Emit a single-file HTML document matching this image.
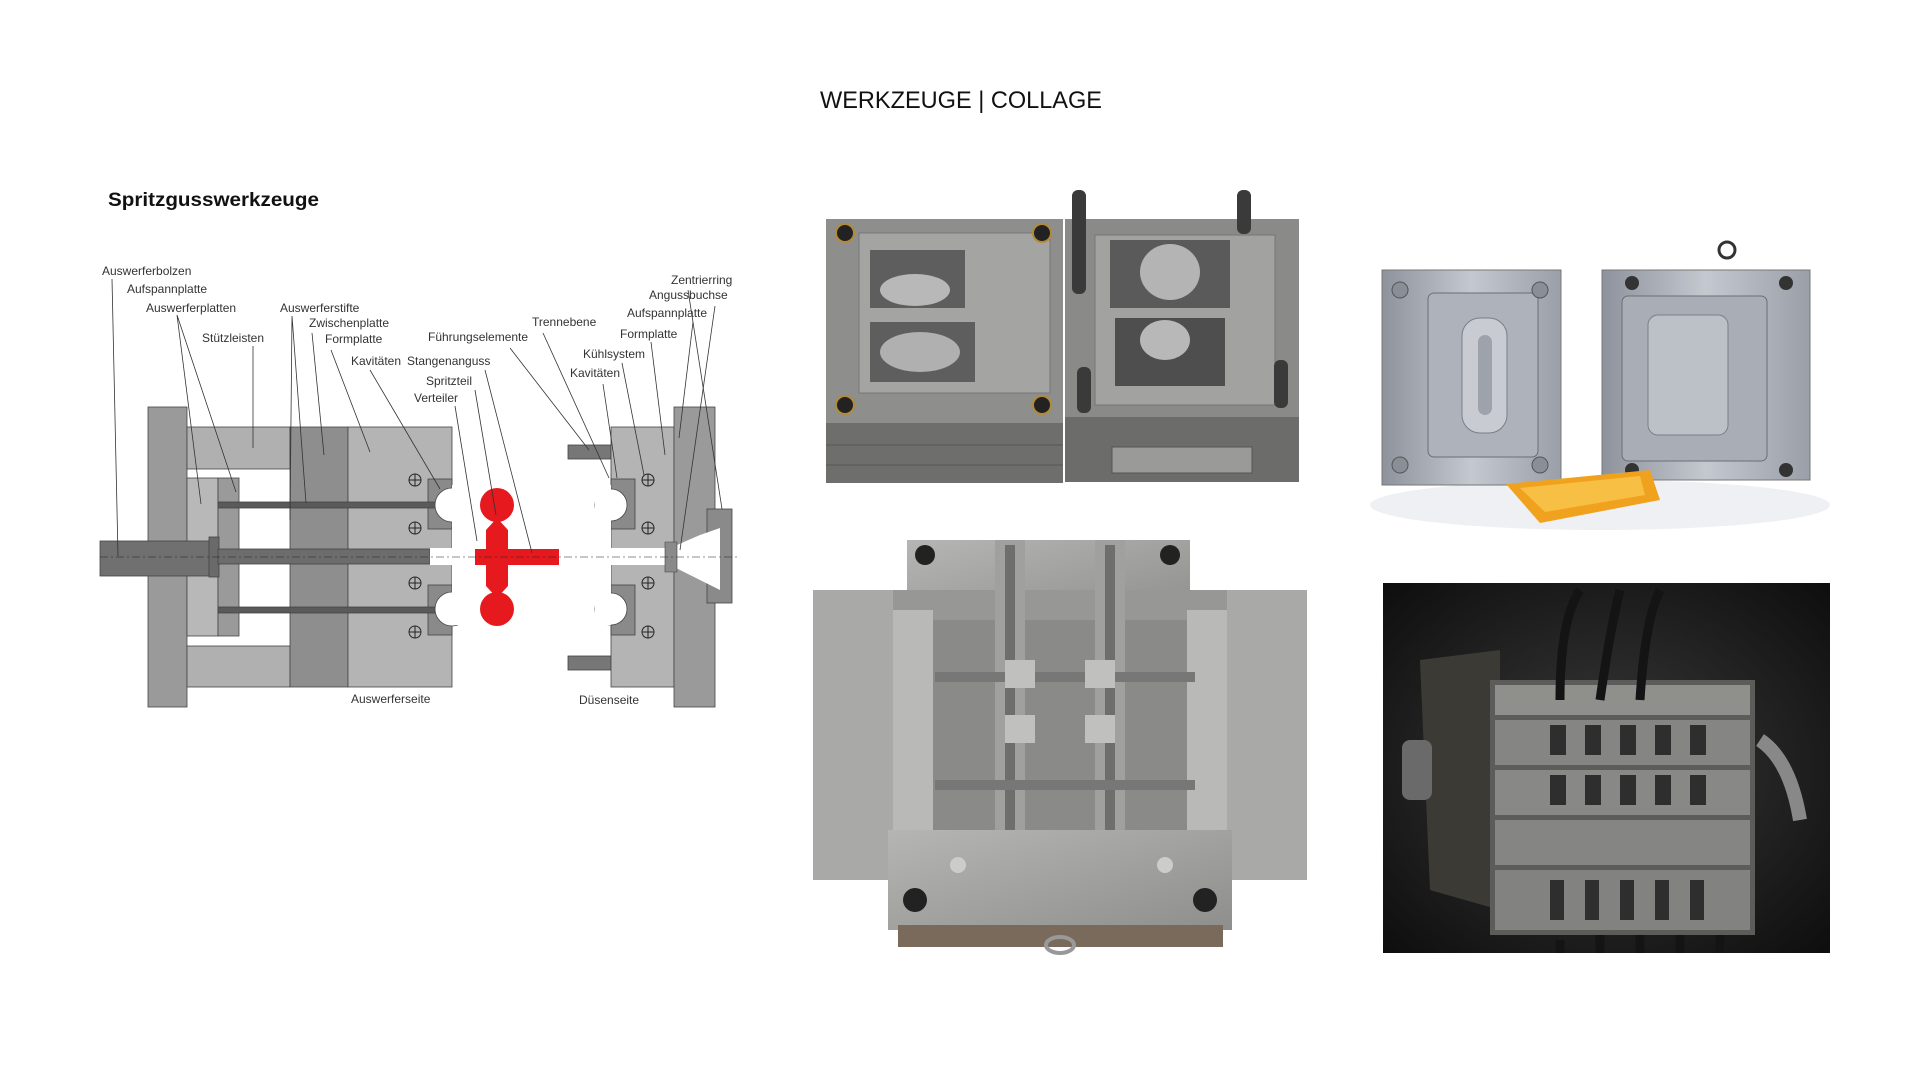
<!DOCTYPE html>
<html><head><meta charset="utf-8"><style>
html,body{margin:0;padding:0;background:#fff;width:1920px;height:1080px;overflow:hidden}
svg{display:block}
.l{font-family:"Liberation Sans Narrow","Liberation Sans",sans-serif;font-size:12px;fill:#333}
</style></head><body>
<svg width="1920" height="1080" viewBox="0 0 1920 1080" xmlns="http://www.w3.org/2000/svg">
<defs>
<linearGradient id="gA" x1="0" y1="0" x2="1" y2="1"><stop offset="0" stop-color="#a8a8a6"/><stop offset="1" stop-color="#808080"/></linearGradient>
<linearGradient id="gB" x1="0" y1="0" x2="1" y2="0"><stop offset="0" stop-color="#8d929c"/><stop offset=".5" stop-color="#c4c8cf"/><stop offset="1" stop-color="#9a9fa8"/></linearGradient>
<linearGradient id="gC" x1="0" y1="0" x2="1" y2="1"><stop offset="0" stop-color="#b5b6b4"/><stop offset="1" stop-color="#8e8f8c"/></linearGradient>
<radialGradient id="gD" cx=".5" cy=".5" r=".7"><stop offset="0" stop-color="#3a3a3a"/><stop offset="1" stop-color="#0e0e0e"/></radialGradient>
</defs>

<text x="961" y="108" text-anchor="middle" font-family="Liberation Sans,sans-serif" font-size="24" fill="#111" textLength="282" lengthAdjust="spacingAndGlyphs">WERKZEUGE | COLLAGE</text>
<text x="108" y="206" font-family="Liberation Sans,sans-serif" font-weight="bold" font-size="19" fill="#111" textLength="211" lengthAdjust="spacingAndGlyphs">Spritzgusswerkzeuge</text>

<!-- ===== Diagram ===== -->
<g stroke="#444" stroke-width="0.8">
<rect x="148" y="407" width="39" height="300" fill="#9a9a9a"/>
<rect x="187" y="427" width="103" height="42" fill="#b0b0b0"/>
<rect x="187" y="646" width="103" height="41" fill="#b0b0b0"/>
<rect x="187" y="478" width="31" height="158" fill="#b8b8b8"/>
<rect x="218" y="478" width="21" height="158" fill="#9a9a9a"/>
<rect x="290" y="427" width="58" height="260" fill="#8e8e8e"/>
<rect x="348" y="427" width="104" height="260" fill="#b4b4b4"/>
<rect x="428" y="479" width="24" height="50" fill="#8a8a8a"/>
<rect x="428" y="585" width="24" height="50" fill="#8a8a8a"/>
<rect x="100" y="541" width="111" height="35" fill="#707070"/>
<rect x="209" y="537" width="10" height="40" fill="#6a6a6a"/>
<rect x="218" y="549" width="212" height="15" fill="#6c6c6c"/>
<rect x="218" y="502" width="222" height="6" fill="#5a5a5a"/>
<rect x="218" y="607" width="222" height="6" fill="#5a5a5a"/>
</g>
<rect x="430" y="548" width="22" height="17" fill="#fff"/>
<circle cx="452" cy="505" r="17" fill="#fff" stroke="#444" stroke-width=".8"/>
<circle cx="452" cy="609" r="17" fill="#fff" stroke="#444" stroke-width=".8"/>
<rect x="452" y="485" width="20" height="140" fill="#fff"/>
<g fill="none" stroke="#222" stroke-width="1">
<circle cx="415" cy="480" r="6"/><path d="M409 480h12M415 474v12"/>
<circle cx="415" cy="528" r="6"/><path d="M409 528h12M415 522v12"/>
<circle cx="415" cy="583" r="6"/><path d="M409 583h12M415 577v12"/>
<circle cx="415" cy="632" r="6"/><path d="M409 632h12M415 626v12"/>
</g>
<!-- red part -->
<g fill="#e5191e">
<circle cx="497" cy="505" r="17"/><circle cx="497" cy="609" r="17"/>
<path d="M497 518 L508 530 L508 586 L497 598 L486 586 L486 530Z"/>
<rect x="475" y="549" width="84" height="16"/>
</g>
<!-- right side -->
<g stroke="#444" stroke-width="0.8">
<rect x="568" y="445" width="43" height="14" fill="#777"/>
<rect x="568" y="656" width="43" height="14" fill="#777"/>
<rect x="611" y="427" width="63" height="260" fill="#b4b4b4"/>
<rect x="611" y="479" width="24" height="50" fill="#8a8a8a"/>
<rect x="611" y="585" width="24" height="50" fill="#8a8a8a"/>
<rect x="674" y="407" width="41" height="300" fill="#9a9a9a"/>
<rect x="707" y="509" width="25" height="94" fill="#8a8a8a"/>
</g>
<circle cx="611" cy="505" r="16" fill="#fff" stroke="#444" stroke-width=".8"/>
<circle cx="611" cy="609" r="16" fill="#fff" stroke="#444" stroke-width=".8"/>
<rect x="595" y="485" width="16" height="140" fill="#fff"/>
<path d="M611 548 L670 548 L700 535 L720 528 L720 590 L700 580 L670 565 L611 565Z" fill="#fff"/>
<path d="M665 542h12v30h-12z" fill="#8a8a8a" stroke="#444" stroke-width=".6"/>
<path d="M100 557H740" stroke="#222" stroke-width=".6" stroke-dasharray="8 3 2 3"/>
<g fill="none" stroke="#222" stroke-width="1">
<circle cx="648" cy="480" r="6"/><path d="M642 480h12M648 474v12"/>
<circle cx="648" cy="528" r="6"/><path d="M642 528h12M648 522v12"/>
<circle cx="648" cy="583" r="6"/><path d="M642 583h12M648 577v12"/>
<circle cx="648" cy="632" r="6"/><path d="M642 632h12M648 626v12"/>
</g>
<!-- leaders -->
<g stroke="#333" stroke-width=".8" fill="none">
<path d="M112 279 L118 556"/>
<path d="M177 315 L201 504 M177 315 L236 492"/>
<path d="M253 346 L253 448"/>
<path d="M292 316 L290 520 M292 316 L306 503"/>
<path d="M312 333 L324 455"/>
<path d="M331 350 L370 452"/>
<path d="M370 370 L440 489"/>
<path d="M485 370 L532 553"/>
<path d="M475 390 L496 515"/>
<path d="M455 406 L477 541"/>
<path d="M510 348 L589 450"/>
<path d="M543 333 L609 478"/>
<path d="M688 290 L722 509"/>
<path d="M715 306 L680 550"/>
<path d="M693 322 L679 438"/>
<path d="M651 342 L665 455"/>
<path d="M622 363 L644 475"/>
<path d="M603 384 L617 478"/>
</g>
<g class="l">
<text x="102" y="275">Auswerferbolzen</text>
<text x="127" y="293">Aufspannplatte</text>
<text x="146" y="312">Auswerferplatten</text>
<text x="202" y="342">Stützleisten</text>
<text x="280" y="312">Auswerferstifte</text>
<text x="309" y="327">Zwischenplatte</text>
<text x="325" y="343">Formplatte</text>
<text x="351" y="365">Kavitäten</text>
<text x="407" y="365">Stangenanguss</text>
<text x="426" y="385">Spritzteil</text>
<text x="414" y="402">Verteiler</text>
<text x="428" y="341">Führungselemente</text>
<text x="532" y="326">Trennebene</text>
<text x="671" y="284">Zentrierring</text>
<text x="649" y="299">Angussbuchse</text>
<text x="627" y="317">Aufspannplatte</text>
<text x="620" y="338">Formplatte</text>
<text x="583" y="358">Kühlsystem</text>
<text x="570" y="377">Kavitäten</text>
<text x="351" y="703">Auswerferseite</text>
<text x="579" y="704">Düsenseite</text>
</g>

<!-- ===== Photo A (top middle) ===== -->
<g>
<rect x="826" y="219" width="237" height="204" fill="#8e8e8c"/>
<rect x="826" y="423" width="237" height="60" fill="#6e6e6c"/>
<path d="M826 445h237M826 465h237" stroke="#555" stroke-width="1"/>
<rect x="859" y="233" width="191" height="160" fill="#a4a4a2" stroke="#777"/>
<rect x="870" y="250" width="95" height="58" fill="#5e5e5e"/><ellipse cx="915" cy="290" rx="35" ry="16" fill="#b8b8b8"/>
<rect x="870" y="322" width="105" height="60" fill="#5e5e5e"/><ellipse cx="920" cy="352" rx="40" ry="20" fill="#b0b0b0"/>
<circle cx="845" cy="233" r="9" fill="#222" stroke="#b38a3a" stroke-width="2"/>
<circle cx="1042" cy="233" r="9" fill="#222" stroke="#b38a3a" stroke-width="2"/>
<circle cx="845" cy="405" r="9" fill="#222" stroke="#b38a3a" stroke-width="2"/>
<circle cx="1042" cy="405" r="9" fill="#222" stroke="#b38a3a" stroke-width="2"/>
<rect x="1065" y="219" width="234" height="198" fill="#8a8a88"/>
<rect x="1065" y="417" width="234" height="65" fill="#6c6c6a"/>
<rect x="1112" y="447" width="140" height="26" fill="#9a9a98" stroke="#555"/>
<rect x="1095" y="235" width="180" height="170" fill="#a2a2a0" stroke="#777"/>
<rect x="1110" y="240" width="120" height="68" fill="#5a5a5a"/><ellipse cx="1170" cy="272" rx="30" ry="28" fill="#b4b4b4"/>
<rect x="1115" y="318" width="110" height="68" fill="#4e4e4e"/><ellipse cx="1165" cy="340" rx="25" ry="20" fill="#b8b8b8"/>
<rect x="1072" y="190" width="14" height="104" rx="6" fill="#3a3a3a"/>
<rect x="1237" y="190" width="14" height="44" rx="6" fill="#3a3a3a"/>
<rect x="1077" y="367" width="14" height="46" rx="6" fill="#3a3a3a"/>
<rect x="1274" y="360" width="14" height="48" rx="6" fill="#3a3a3a"/>
</g>

<!-- ===== Photo B (top right) ===== -->
<g>
<ellipse cx="1600" cy="505" rx="230" ry="25" fill="#eef0f3"/>
<rect x="1382" y="270" width="179" height="215" fill="url(#gB)" stroke="#777"/>
<rect x="1428" y="293" width="110" height="164" rx="6" fill="#aeb2ba" stroke="#6a6e76"/>
<rect x="1462" y="318" width="45" height="115" rx="18" fill="#c8ccd2" stroke="#7a7e86"/>
<rect x="1478" y="335" width="14" height="80" rx="7" fill="#9ea2aa"/>
<circle cx="1400" cy="290" r="8" fill="#8a8e96" stroke="#555"/>
<circle cx="1540" cy="290" r="8" fill="#8a8e96" stroke="#555"/>
<circle cx="1400" cy="465" r="8" fill="#8a8e96" stroke="#555"/>
<circle cx="1540" cy="465" r="8" fill="#8a8e96" stroke="#555"/>
<rect x="1602" y="270" width="208" height="210" fill="url(#gB)" stroke="#777"/>
<rect x="1622" y="296" width="145" height="165" rx="6" fill="#a9adb5" stroke="#6a6e76"/>
<rect x="1648" y="315" width="80" height="120" rx="10" fill="#bcc0c7" stroke="#7a7e86"/>
<circle cx="1632" cy="283" r="7" fill="#333"/><circle cx="1786" cy="283" r="7" fill="#333"/>
<circle cx="1632" cy="470" r="7" fill="#333"/><circle cx="1786" cy="470" r="7" fill="#333"/>
<circle cx="1727" cy="250" r="8" fill="none" stroke="#333" stroke-width="3"/>
<path d="M1506 484 L1650 470 L1660 500 L1540 523 Z" fill="#f0a21e"/>
<path d="M1520 488 L1640 476 L1645 495 L1545 512 Z" fill="#f7c045"/>
</g>

<!-- ===== Photo C (bottom middle) ===== -->
<g>
<rect x="907" y="540" width="283" height="80" fill="url(#gC)"/>
<rect x="813" y="590" width="494" height="290" fill="#979896"/>
<rect x="813" y="590" width="80" height="290" fill="#a9aaa8"/>
<rect x="1227" y="590" width="80" height="290" fill="#a9aaa8"/>
<rect x="893" y="610" width="40" height="250" fill="#b9bab8"/>
<rect x="1187" y="610" width="40" height="250" fill="#b9bab8"/>
<rect x="933" y="620" width="254" height="230" fill="#8a8b89"/>
<rect x="995" y="540" width="30" height="400" fill="#a0a19f"/>
<rect x="1095" y="540" width="30" height="400" fill="#a0a19f"/>
<rect x="1005" y="545" width="10" height="390" fill="#6e6e6c"/>
<rect x="1105" y="545" width="10" height="390" fill="#6e6e6c"/>
<rect x="935" y="672" width="260" height="10" fill="#777"/>
<rect x="935" y="780" width="260" height="10" fill="#777"/>
<rect x="888" y="830" width="344" height="100" fill="url(#gC)"/>
<rect x="898" y="925" width="325" height="22" fill="#7a6a5c"/>
<circle cx="925" cy="555" r="10" fill="#222"/><circle cx="1170" cy="555" r="10" fill="#222"/>
<circle cx="915" cy="900" r="12" fill="#222"/><circle cx="1205" cy="900" r="12" fill="#222"/>
<circle cx="958" cy="865" r="8" fill="#ccc"/><circle cx="1165" cy="865" r="8" fill="#ccc"/>
<rect x="1005" y="660" width="30" height="28" fill="#c0c0be"/><rect x="1085" y="660" width="30" height="28" fill="#c0c0be"/>
<rect x="1005" y="715" width="30" height="28" fill="#c0c0be"/><rect x="1085" y="715" width="30" height="28" fill="#c0c0be"/>
<ellipse cx="1060" cy="945" rx="14" ry="8" fill="none" stroke="#999" stroke-width="4"/>
</g>

<!-- ===== Photo D (bottom right, dark) ===== -->
<g>
<rect x="1383" y="583" width="447" height="370" fill="url(#gD)"/>
<path d="M1420 660 L1500 650 L1500 910 L1430 890 Z" fill="#3c3a34"/>
<rect x="1402" y="740" width="30" height="60" rx="8" fill="#6a6a6a"/>
<rect x="1490" y="680" width="265" height="255" fill="#5c5c5a"/>
<rect x="1495" y="685" width="255" height="30" fill="#8f8f8c"/>
<rect x="1495" y="720" width="255" height="45" fill="#858583"/>
<rect x="1495" y="770" width="255" height="45" fill="#888886"/>
<rect x="1495" y="820" width="255" height="45" fill="#858583"/>
<rect x="1495" y="870" width="255" height="60" fill="#828280"/>
<g fill="#2e2e2e">
<rect x="1550" y="725" width="16" height="30"/><rect x="1585" y="725" width="16" height="30"/><rect x="1620" y="725" width="16" height="30"/><rect x="1655" y="725" width="16" height="30"/><rect x="1690" y="725" width="16" height="30"/>
<rect x="1550" y="775" width="16" height="30"/><rect x="1585" y="775" width="16" height="30"/><rect x="1620" y="775" width="16" height="30"/><rect x="1655" y="775" width="16" height="30"/><rect x="1690" y="775" width="16" height="30"/>
<rect x="1550" y="880" width="14" height="40"/><rect x="1585" y="880" width="14" height="40"/><rect x="1620" y="880" width="14" height="40"/><rect x="1655" y="880" width="14" height="40"/><rect x="1690" y="880" width="14" height="40"/>
</g>
<path d="M1760 740 Q1790 760 1800 820" stroke="#888" stroke-width="14" fill="none"/>
<g stroke="#141414" stroke-width="9" fill="none">
<path d="M1560 700 Q1560 620 1580 590"/><path d="M1600 700 Q1610 630 1620 590"/><path d="M1640 700 Q1645 620 1660 590"/>
<path d="M1560 940 V953"/><path d="M1600 935 V953"/><path d="M1640 935 V953"/><path d="M1680 935 V953"/><path d="M1720 935 V953"/>
</g>
</g>
</svg>
</body></html>
